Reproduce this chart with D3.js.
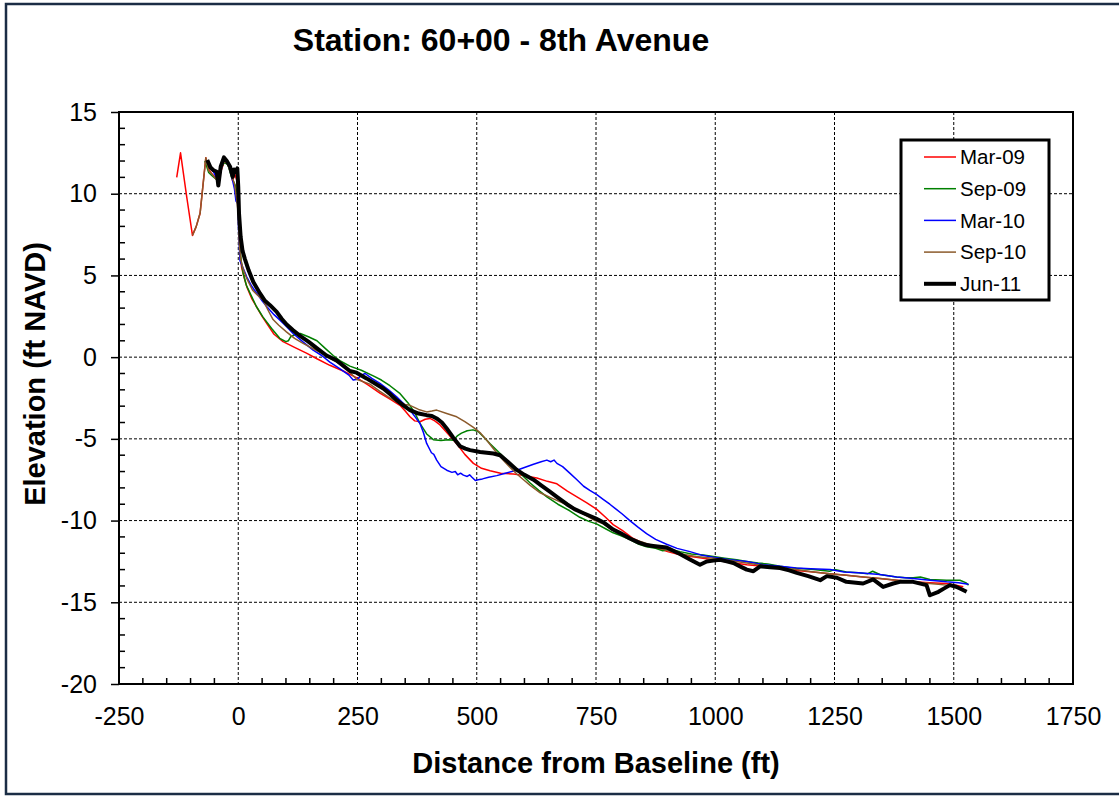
<!DOCTYPE html>
<html>
<head>
<meta charset="utf-8">
<script src="https://cdn.jsdelivr.net/npm/d3@7"></script>
<style>
  body { margin: 0; background: #fff; }
  svg { display: block; font-family: "Liberation Sans", Arial, sans-serif; }
</style>
</head>
<body>
<svg id="chart" width="1119" height="796"></svg>
<script>
// distance from baseline (ft), elevation (ft NAVD)
const mar09 = [[-129,11.0],[-121,12.5],[-108,9.8],[-96,7.45],[-88,8.0],[-80,8.8],[-68,12.2],[-62,11.5],[-55,11.2],[-48,11.0],[-42,10.8],[-36,11.4],[-30,11.9],[-23,12.05],[-17,11.5],[-12,10.8],[-7,11.2],[-3,10.8],[0,9.6],[2,7.5],[5,6.0],[7,5.5],[12,4.9],[18,4.3],[28,3.6],[39,3.05],[50,2.5],[60,2.05],[75,1.4],[94,0.95],[118,0.6],[143,0.25],[165,-0.1],[192,-0.5],[220,-0.85],[248,-1.25],[272,-1.7],[297,-2.2],[320,-2.6],[339,-2.95],[350,-3.3],[360,-3.65],[370,-3.9],[381,-3.95],[392,-3.8],[402,-3.75],[412,-3.9],[423,-4.15],[440,-4.7],[458,-5.3],[475,-5.95],[493,-6.5],[510,-6.8],[528,-6.95],[550,-7.1],[577,-7.15],[600,-7.25],[626,-7.4],[648,-7.6],[668,-7.75],[690,-8.2],[710,-8.55],[730,-8.9],[751,-9.3],[770,-9.8],[786,-10.25],[805,-10.6],[828,-11.1],[850,-11.4],[870,-11.6],[900,-11.9],[926,-12.1],[960,-12.25],[996,-12.4],[1030,-12.55],[1066,-12.7],[1100,-12.8],[1136,-12.93],[1170,-13.05],[1206,-13.15],[1240,-13.25],[1275,-13.35],[1310,-13.45],[1345,-13.55],[1380,-13.65],[1415,-13.75],[1450,-13.8],[1485,-13.85],[1505,-13.95],[1520,-14.05]]

const sep09 = [[-70,12.0],[-62,11.3],[-55,11.1],[-47,10.9],[-40,11.3],[-30,11.9],[-22,11.8],[-14,11.0],[-6,10.5],[-2,10.0],[0,9.0],[3,6.8],[6,5.9],[10.6,5.1],[17,4.4],[25,3.9],[38,3.1],[52,2.45],[70,1.75],[87,1.15],[100,0.95],[105,1.0],[110,1.25],[120,1.4],[130,1.45],[147,1.25],[165,1.0],[180,0.6],[199,0.1],[215,-0.25],[234,-0.55],[258,-0.8],[283,-1.15],[300,-1.4],[318,-1.75],[338,-2.2],[356,-2.8],[370,-3.4],[381,-4.05],[395,-4.7],[409,-5.05],[425,-5.1],[440,-5.05],[451,-5.08],[460,-4.8],[468,-4.65],[480,-4.5],[492,-4.45],[503,-4.55],[515,-4.9],[528,-5.3],[542,-5.7],[556,-6.1],[570,-6.5],[584,-6.9],[598,-7.3],[612,-7.7],[630,-8.15],[647,-8.55],[670,-9.0],[695,-9.4],[716,-9.8],[735,-10.05],[751,-10.2],[770,-10.5],[786,-10.75],[800,-10.9],[820,-11.15],[840,-11.45],[856,-11.6],[875,-11.7],[890,-11.85],[905,-11.75],[926,-11.9],[950,-12.05],[975,-12.1],[996,-12.2],[1020,-12.3],[1045,-12.4],[1066,-12.5],[1090,-12.6],[1110,-12.65],[1136,-12.8],[1160,-12.9],[1185,-12.95],[1206,-13.0],[1240,-13.1],[1250,-13.0],[1275,-13.15],[1300,-13.2],[1320,-13.25],[1330,-13.1],[1345,-13.3],[1380,-13.45],[1400,-13.5],[1415,-13.5],[1430,-13.45],[1450,-13.6],[1485,-13.65],[1513,-13.65],[1525,-13.8],[1531,-13.95]]

const mar10 = [[-67,12.0],[-60,11.6],[-53,11.4],[-46,11.0],[-41,10.6],[-36,11.5],[-30,12.1],[-22,11.9],[-14,11.1],[-8,10.3],[-4.7,9.55],[-1,9.4],[1,7.5],[3.7,5.9],[8,5.6],[18,4.9],[28,4.35],[39,3.9],[50,3.45],[60,3.08],[75,2.6],[88,2.25],[100,1.9],[115,1.45],[135,0.95],[157,0.43],[175,0.1],[192,-0.3],[215,-0.75],[232,-1.1],[241,-1.4],[250,-1.35],[258,-1.1],[266,-1.0],[280,-1.3],[297,-1.6],[315,-2.0],[332,-2.43],[347,-2.85],[360,-3.24],[372,-3.7],[381,-4.06],[388,-4.6],[395,-5.28],[405,-5.85],[410,-5.95],[416,-6.3],[425,-6.7],[437,-6.92],[448,-7.05],[455,-7.0],[460,-7.2],[466,-7.1],[472,-7.22],[480,-7.3],[485,-7.2],[490,-7.35],[497,-7.55],[503,-7.5],[512,-7.45],[525,-7.35],[542,-7.25],[560,-7.1],[584,-6.92],[600,-6.75],[619,-6.55],[635,-6.4],[647,-6.3],[655,-6.4],[662,-6.3],[668,-6.5],[680,-6.7],[695,-7.1],[710,-7.5],[724,-7.9],[737,-8.15],[751,-8.4],[765,-8.7],[779,-9.0],[790,-9.25],[805,-9.6],[821,-10.0],[838,-10.4],[856,-10.8],[875,-11.15],[898,-11.45],[920,-11.7],[947,-11.9],[970,-12.1],[996,-12.25],[1030,-12.4],[1066,-12.5],[1100,-12.7],[1136,-12.8],[1170,-12.9],[1200,-12.95],[1241,-13.0],[1270,-13.15],[1300,-13.2],[1345,-13.3],[1380,-13.45],[1415,-13.55],[1450,-13.65],[1485,-13.75],[1510,-13.8],[1531,-13.9]]

const sep10 = [[-96,7.45],[-88,8.0],[-80,8.8],[-68,12.2],[-62,11.4],[-55,11.2],[-47,10.9],[-40,11.2],[-30,12.0],[-22,11.8],[-15,11.2],[-8,10.6],[-3,9.6],[0,8.8],[2,7.0],[5,6.0],[10,5.4],[18,4.8],[30,4.1],[40,3.8],[52,3.49],[62,2.9],[73,2.3],[85,1.95],[101,1.55],[118,1.15],[136,0.84],[158,0.5],[178,0.2],[200,-0.2],[220,-0.5],[248,-1.35],[276,-1.65],[297,-2.1],[315,-2.45],[332,-2.73],[350,-2.9],[360,-2.95],[378,-3.2],[395,-3.35],[406,-3.3],[416,-3.24],[437,-3.45],[458,-3.65],[475,-3.95],[493,-4.3],[508,-4.65],[521,-5.08],[535,-5.6],[549,-6.1],[560,-6.45],[570,-6.75],[584,-7.15],[598,-7.5],[612,-7.85],[633,-8.3],[655,-8.6],[682,-8.95],[700,-9.25],[724,-9.6],[745,-9.95],[765,-10.2],[786,-10.6],[807,-10.85],[830,-11.15],[856,-11.4],[890,-11.75],[926,-12.03],[960,-12.2],[996,-12.3],[1030,-12.45],[1066,-12.6],[1100,-12.75],[1136,-12.9],[1170,-13.0],[1206,-13.14],[1240,-13.25],[1275,-13.35],[1310,-13.45],[1345,-13.55],[1380,-13.65],[1415,-13.75],[1450,-13.85],[1485,-13.95],[1505,-14.05],[1520,-14.2]]

const jun11 = [[-65,12.06],[-58,11.6],[-52,11.44],[-45,11.34],[-41.8,10.5],[-36.8,11.65],[-30,12.22],[-24,12.0],[-17,11.65],[-11.6,11.03],[-8.9,11.48],[-4.7,11.34],[-2,11.55],[0,10.42],[1.6,8.79],[5,7.36],[9,6.5],[14,6.0],[22,5.3],[31.6,4.6],[45.6,3.9],[56,3.45],[66.6,3.18],[80.6,2.77],[91,2.35],[101.5,2.0],[115,1.65],[129.5,1.3],[147,0.95],[164.5,0.55],[185,0.1],[206,-0.2],[234,-0.85],[248,-0.95],[269,-1.3],[286,-1.6],[304,-1.92],[318,-2.25],[332,-2.63],[346,-2.95],[360,-3.24],[378,-3.45],[395,-3.55],[406,-3.6],[416,-3.75],[427,-4.0],[437,-4.36],[450,-4.9],[465,-5.45],[476,-5.6],[486,-5.69],[507,-5.8],[535,-5.9],[549,-6.0],[565,-6.4],[584,-6.9],[600,-7.2],[619,-7.5],[635,-7.85],[654,-8.25],[670,-8.6],[689,-9.0],[705,-9.3],[724,-9.55],[740,-9.75],[751,-9.9],[765,-10.1],[786,-10.55],[800,-10.75],[821,-11.1],[840,-11.35],[856,-11.5],[870,-11.55],[884,-11.6],[898,-11.65],[912,-11.85],[926,-12.05],[945,-12.35],[968,-12.7],[982,-12.5],[996,-12.45],[1010,-12.4],[1024,-12.5],[1038,-12.6],[1052,-12.8],[1066,-13.0],[1080,-13.1],[1094,-12.8],[1115,-12.85],[1136,-12.9],[1155,-13.05],[1171,-13.2],[1195,-13.4],[1220,-13.65],[1234,-13.4],[1255,-13.5],[1275,-13.75],[1295,-13.8],[1310,-13.85],[1331,-13.6],[1352,-14.06],[1373,-13.85],[1387,-13.75],[1415,-13.75],[1443,-13.95],[1450,-14.57],[1468,-14.36],[1480,-14.15],[1492,-13.95],[1505,-14.05],[1513,-14.16],[1527,-14.36]]

const seriesNames = ['Mar-09', 'Sep-09', 'Mar-10', 'Sep-10', 'Jun-11']
const seriesData = [mar09, sep09, mar10, sep10, jun11]
const seriesColours = ['#ff0000', '#008000', '#0000ff', '#8b5a2b', '#000000']
const seriesWidths = [1.5, 1.5, 1.5, 1.5, 4]

const xTicks = [-250, 0, 250, 500, 750, 1000, 1250, 1500, 1750]
const yTicks = [-20, -15, -10, -5, 0, 5, 10, 15]

const svg = d3.select('#chart')
const plotLeft = 119, plotRight = 1073, plotTop = 112, plotBottom = 684

const xScale = d3.scaleLinear().domain([-250, 1750]).range([plotLeft, plotRight])
const yScale = d3.scaleLinear().domain([-20, 15]).range([plotBottom, plotTop])

// outer frame
svg.append('rect')
    .attr('x', 6).attr('y', 4)
    .attr('width', 1130).attr('height', 790)
    .attr('fill', 'none')
    .attr('stroke', '#1b2d45')
    .attr('stroke-width', 2.5)

svg.append('text')
    .attr('x', 501).attr('y', 51)
    .attr('text-anchor', 'middle')
    .attr('font-size', 32).attr('font-weight', 'bold')
    .text('Station: 60+00 - 8th Avenue')

// grid
const grid = svg.append('g')
grid.selectAll('line.gx')
    .data(xTicks.slice(1, -1))
    .join('line')
    .attr('class', 'gx')
    .attr('x1', d => xScale(d)).attr('x2', d => xScale(d))
    .attr('y1', plotTop).attr('y2', plotBottom)
grid.selectAll('line.gy')
    .data(yTicks.slice(1, -1))
    .join('line')
    .attr('class', 'gy')
    .attr('x1', plotLeft).attr('x2', plotRight)
    .attr('y1', d => yScale(d)).attr('y2', d => yScale(d))
grid.selectAll('line')
    .attr('stroke', '#000')
    .attr('stroke-width', 1)
    .attr('stroke-dasharray', '3,2')

// minor ticks, inside
svg.append('g').selectAll('line')
    .data(d3.range(-250, 1751, 50).filter(d => d % 250 != 0))
    .join('line')
    .attr('x1', d => xScale(d)).attr('x2', d => xScale(d))
    .attr('y1', plotBottom).attr('y2', plotBottom - 6)
    .attr('stroke', '#000').attr('stroke-width', 1.5)
svg.append('g').selectAll('line')
    .data(d3.range(-20, 16, 1).filter(d => d % 5 != 0))
    .join('line')
    .attr('x1', plotLeft).attr('x2', plotLeft + 6)
    .attr('y1', d => yScale(d)).attr('y2', d => yScale(d))
    .attr('stroke', '#000').attr('stroke-width', 1.5)

// axes
const fmt = d => String(d)
const xAxis = svg.append('g')
    .attr('transform', `translate(0,${plotBottom})`)
    .call(d3.axisBottom(xScale).tickValues(xTicks).tickSize(0).tickPadding(23).tickFormat(fmt))
const yAxis = svg.append('g')
    .attr('transform', `translate(${plotLeft},0)`)
    .call(d3.axisLeft(yScale).tickValues(yTicks).tickSize(8).tickPadding(14).tickFormat(fmt))
for (const ax of [xAxis, yAxis]) {
    ax.select('.domain').remove()
    ax.attr('font-family', null).attr('font-size', null)
    ax.selectAll('text').attr('font-size', 25).attr('fill', '#000')
    ax.selectAll('line').attr('stroke', '#000').attr('stroke-width', 1.5)
}

// profiles
const line = d3.line()
    .x(d => xScale(d[0]))
    .y(d => yScale(d[1]))

svg.append('g').selectAll('path')
    .data(seriesData)
    .join('path')
    .attr('d', line)
    .attr('fill', 'none')
    .attr('stroke', (d, i) => seriesColours[i])
    .attr('stroke-width', (d, i) => seriesWidths[i])
    .attr('stroke-linejoin', 'round')

// plot frame
svg.append('rect')
    .attr('x', plotLeft).attr('y', plotTop)
    .attr('width', plotRight - plotLeft).attr('height', plotBottom - plotTop)
    .attr('fill', 'none')
    .attr('stroke', '#000')
    .attr('stroke-width', 2)

// axis titles
svg.append('text')
    .attr('x', 596).attr('y', 773)
    .attr('text-anchor', 'middle')
    .attr('font-size', 29).attr('font-weight', 'bold')
    .text('Distance from Baseline (ft)')
svg.append('text')
    .attr('transform', 'translate(45,374) rotate(-90)')
    .attr('text-anchor', 'middle')
    .attr('font-size', 29).attr('font-weight', 'bold')
    .text('Elevation (ft NAVD)')

// legend
const legend = svg.append('g')
legend.append('rect')
    .attr('x', 901).attr('y', 140)
    .attr('width', 148).attr('height', 160)
    .attr('fill', '#fff')
    .attr('stroke', '#000')
    .attr('stroke-width', 3)
const rows = legend.selectAll('g.row')
    .data(seriesNames)
    .join('g')
    .attr('class', 'row')
    .attr('transform', (d, i) => `translate(0,${157 + i * 31.7})`)
rows.append('line')
    .attr('x1', 924).attr('x2', 956)
    .attr('stroke', (d, i) => seriesColours[i])
    .attr('stroke-width', (d, i) => seriesWidths[i])
rows.append('text')
    .attr('x', 960).attr('dy', '0.35em')
    .attr('font-size', 20.5)
    .text(d => d)
</script>
</body>
</html>
